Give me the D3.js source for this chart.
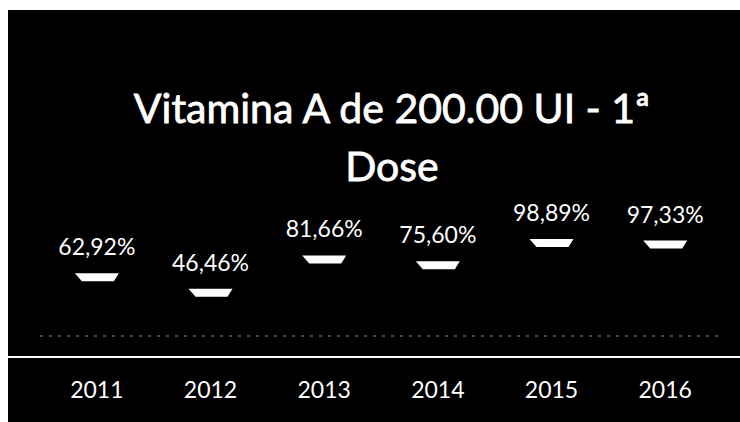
<!DOCTYPE html>
<html>
<head>
<meta charset="utf-8">
<script src="https://cdn.jsdelivr.net/npm/d3@7"></script>
<style>
    body { margin: 0; background: #fff; }
    svg { display: block; }
    text { font-family: Lato, "Open Sans", sans-serif; fill: #fff; }
</style>
</head>
<body>
<svg id="chart" width="740" height="422"></svg>
<script>
var years = ['2011', '2012', '2013', '2014', '2015', '2016'];
var values = [62.92, 46.46, 81.66, 75.60, 98.89, 97.33];
var valueLabels = ['62,92%', '46,46%', '81,66%', '75,60%', '98,89%', '97,33%'];
var titleLines = ['Vitamina A de 200.00 UI - 1ª', 'Dose'];

d3.select(window).on('load', init);

function init() {
    var svg = d3.select('#chart');
    var W = 740, H = 422;

    // black panel (slide area)
    svg.append('rect')
        .attr('x', 8).attr('y', 10)
        .attr('width', W - 8).attr('height', H - 10)
        .style('fill', '#000');

    var x = d3.scaleBand().domain(years).range([40, 722]);
    var y = d3.scaleLinear().domain([0, 100]).range([337, 242]);

    // title, both lines centred
    svg.selectAll('.title')
        .data(titleLines)
        .enter().append('text')
        .attr('class', 'title')
        .attr('x', 392)
        .attr('y', function(d, i) { return 123 + i * 58; })
        .attr('text-anchor', 'middle')
        .style('font-size', '41px')
        .style('stroke', '#fff')
        .style('stroke-width', 0.8)
        .text(function(d) { return d; });

    // faint zero line
    svg.append('line')
        .attr('x1', 40).attr('x2', 722)
        .attr('y1', y(0) - 1).attr('y2', y(0) - 1)
        .style('stroke', '#888')
        .style('stroke-width', 1)
        .style('stroke-dasharray', '3,6');

    // axis line + year labels
    var axis = d3.axisBottom(x).tickSize(0).tickPadding(25);
    var gx = svg.append('g')
        .attr('transform', 'translate(0,357)')
        .call(axis);
    gx.select('.domain').remove();
    gx.selectAll('text')
        .style('font-size', '23px')
        .style('fill', '#fff');
    svg.append('line')
        .attr('x1', 8).attr('x2', W)
        .attr('y1', 357).attr('y2', 357)
        .style('stroke', '#fff')
        .style('stroke-width', 2);

    // dash markers (trapezoids)
    var marker = 'M-22,-4 L22,-4 L17,4 L-15,4 Z';
    svg.selectAll('.marker')
        .data(values)
        .enter().append('path')
        .attr('class', 'marker')
        .attr('d', marker)
        .attr('transform', function(d, i) {
            return 'translate(' + (x(years[i]) + x.bandwidth() / 2) + ',' + y(d) + ')';
        })
        .style('fill', '#fff');

    // value labels
    svg.selectAll('.vlabel')
        .data(values)
        .enter().append('text')
        .attr('class', 'vlabel')
        .attr('x', function(d, i) { return x(years[i]) + x.bandwidth() / 2; })
        .attr('y', function(d) { return y(d) - 22; })
        .attr('text-anchor', 'middle')
        .style('font-size', '23px')
        .text(function(d, i) { return valueLabels[i]; });
}
</script>
</body>
</html>
